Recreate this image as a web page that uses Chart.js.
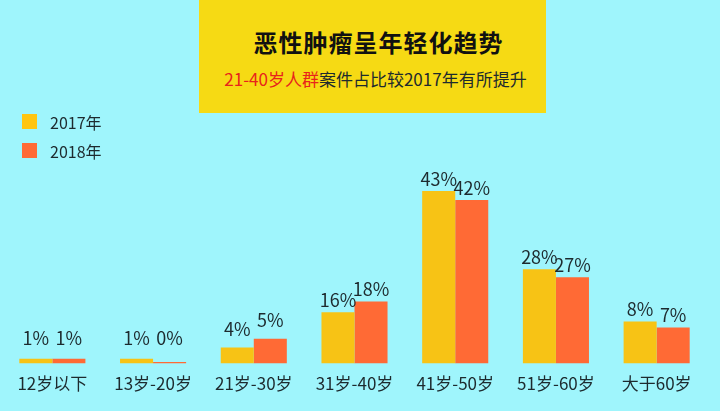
<!DOCTYPE html>
<html lang="zh">
<head>
<meta charset="utf-8">
<script src="https://cdn.jsdelivr.net/npm/chart.js@4"></script>
<style>
  body { margin: 0; background: #9ff5fc; }
  #wrap { position: relative; width: 720px; height: 411px; background: #9ff5fc; overflow: hidden;
          font-family: "Noto Sans CJK SC", "Noto Sans", sans-serif; color: #1d2a2e; }
  #chart { position: absolute; left: 0; top: 0; }
  #head { position: absolute; left: 199px; top: 0; width: 347px; height: 113px; background: #f6da14; text-align: center; }
  #head h1 { margin: 0; position: absolute; left: 0; right: 0; top: 26px; font-size: 24px; font-weight: 700;
             letter-spacing: 1px; line-height: 32px; padding-left: 12px; color: #111; }
  #head p { margin: 0; position: absolute; left: 0; right: 0; top: 67px; font-size: 17px; line-height: 24px; padding-left: 6px; }
  #head p span { color: #e8231b; }
  #legend { position: absolute; left: 22px; top: 114px; font-size: 16px; }
  #legend div { height: 29px; line-height: 16px; position: relative; padding-left: 28px; }
  #legend i { position: absolute; left: 0; top: 0; width: 15px; height: 15px; }
</style>
</head>
<body>
<div id="wrap">
  <canvas id="chart" width="720" height="411"></canvas>
  <div id="head">
    <h1>恶性肿瘤呈年轻化趋势</h1>
    <p><span>21-40岁人群</span>案件占比较2017年有所提升</p>
  </div>
  <div id="legend"></div>
</div>
<script>
// 分類與數據
const categories = ['12岁以下', '13岁-20岁', '21岁-30岁', '31岁-40岁', '41岁-50岁', '51岁-60岁', '大于60岁'];
const seriesNames = ['2017年', '2018年'];
const seriesColors = ['#f7c315', '#ff6a35'];
const legendColors = ['#ffc511', '#ff6a35'];

// 柱子長度 (依圖上量得)
const bars2017 = [1.2, 1.2, 4.0, 12.8, 43.0, 23.5, 10.5];
const bars2018 = [1.2, 0.4, 6.2, 15.5, 40.8, 21.5, 9.0];

// 柱頂標籤
const labels2017 = ['1%', '1%', '4%', '16%', '43%', '28%', '8%'];
const labels2018 = ['1%', '0%', '5%', '18%', '42%', '27%', '7%'];
const valueLabels = [labels2017, labels2018];

// 圖例
const legendBox = document.getElementById('legend');
seriesNames.forEach((name, i) => {
  const d = document.createElement('div');
  d.innerHTML = `<i style="background:${legendColors[i]}"></i>${name}`;
  legendBox.appendChild(d);
});

const labelPlugin = {
  id: 'valueLabels',
  afterDatasetsDraw(chart) {
    const ctx = chart.ctx;
    const base = chart.scales.y.getPixelForValue(0);
    ctx.save();
    ctx.font = '18px "Noto Sans CJK SC", "Noto Sans", sans-serif';
    ctx.fillStyle = '#1d2a2e';
    ctx.textAlign = 'center';
    ctx.textBaseline = 'alphabetic';
    chart.data.datasets.forEach((ds, i) => {
      chart.getDatasetMeta(i).data.forEach((bar, j) => {
        const h = base - bar.y;
        let y = bar.y - (h < 30 ? 12 : 5);
        y = Math.min(y, base - 19);
        ctx.fillText(valueLabels[i][j], bar.x, y);
      });
    });
    ctx.restore();
  }
};

const ctx = document.getElementById('chart').getContext('2d');
new Chart(ctx, {
  type: 'bar',
  data: {
    labels: categories,
    datasets: [
      { label: seriesNames[0], data: bars2017, backgroundColor: seriesColors[0] },
      { label: seriesNames[1], data: bars2018, backgroundColor: seriesColors[1] }
    ]
  },
  options: {
    responsive: false,
    devicePixelRatio: 1,
    animation: false,
    datasets: { bar: { barPercentage: 1, categoryPercentage: 0.656 } },
    layout: { padding: { left: 2, right: 13, top: 163, bottom: 7 } },
    plugins: { legend: { display: false }, tooltip: { enabled: false } },
    scales: {
      x: {
        grid: { display: false, drawTicks: false },
        border: { display: false },
        ticks: {
          color: '#1d2a2e',
          padding: 10,
          font: { family: '"Noto Sans CJK SC", "Noto Sans", sans-serif', size: 17 }
        }
      },
      y: { display: false, min: 0, max: 50 }
    }
  },
  plugins: [labelPlugin]
});
</script>
</body>
</html>
